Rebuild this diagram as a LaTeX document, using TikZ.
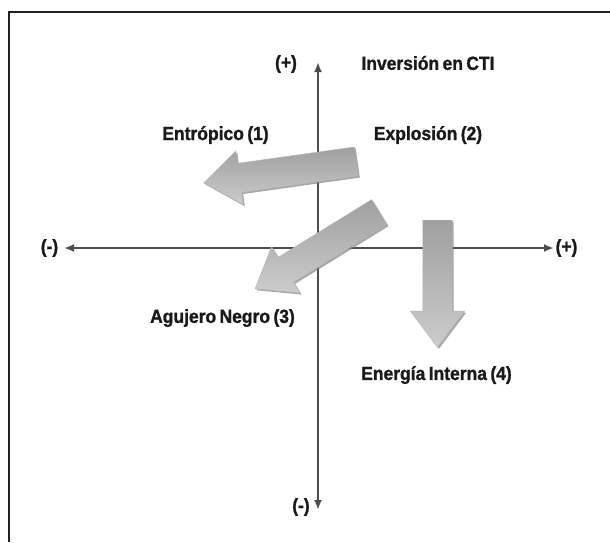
\documentclass[tikz,border=0pt]{standalone}
\usepackage{fontspec}
\setmainfont[FakeStretch=0.92, WordSpace=0.7, BoldFeatures={FakeBold=1.2}]{Liberation Sans}
\usetikzlibrary{arrows.meta, shapes.arrows, shadows}
\definecolor{axisgray}{HTML}{4D4D4D}
\definecolor{framegray}{HTML}{222222}
\definecolor{labelgray}{HTML}{1A1A1A}
\begin{document}
\begin{tikzpicture}[x=1pt, y=-1pt]

\tikzset{axis/.style = {<->, > = {Latex[length=10pt, width=8pt]}, line width=2pt, draw=axisgray}}
\tikzset{lbl/.style = {font=\fontsize{19}{21}\selectfont\bfseries, text=labelgray, inner sep=0pt}}
\tikzset{bigarrow/.style = {single arrow, draw=gray!60, line width=0.4pt, top color=gray!75, bottom color=gray!40,
  single arrow head extend=12.5pt, single arrow tip angle=74, minimum width=54pt, inner sep=0pt,
  text height=14.5pt, text depth=14.5pt, text width=0pt, anchor=tail,
  drop shadow={shadow xshift=1.5pt, shadow yshift=-1.5pt, opacity=0.7}}}
\useasboundingbox (0,0) rectangle (610,542);
% frame
\draw[line width=2pt, framegray] (9,542) -- (9,12) -- (610,12);
% axes
\coordinate (west) at (64,248);
\coordinate (east) at (554,248);
\coordinate (north) at (318,62);
\coordinate (south) at (318,510);
\draw[axis] (west) -- (east);
\draw[axis] (south) -- (north);
% axis labels
\node[lbl] (xneg) at (49.5,248) {(-)};
\node[lbl] (xpos) at (566.5,248) {(+)};
\node[lbl] (ypos) at (286,64) {(+)};
\node[lbl] (yneg) at (301,507) {(-)};
\node[lbl] (title) at (428,63) {Inversión en CTI};
% arrows
\node[bigarrow, minimum height=154pt, rotate=188] (entropico) at (356.5,161.5) {};
\node[bigarrow, minimum height=146pt, rotate=211.7] (agujero) at (379.5,212) {};
\node[bigarrow, minimum height=127pt, rotate=270] (energia) at (437.5,220) {};
% labels
\node[lbl] (l1) at (215.5,135) {Entrópico (1)};
\node[lbl] (l2) at (428,135) {Explosión (2)};
\node[lbl] (l3) at (222.5,318) {Agujero Negro (3)};
\node[lbl] (l4) at (436.5,375) {Energía Interna (4)};
\end{tikzpicture}
\end{document}
